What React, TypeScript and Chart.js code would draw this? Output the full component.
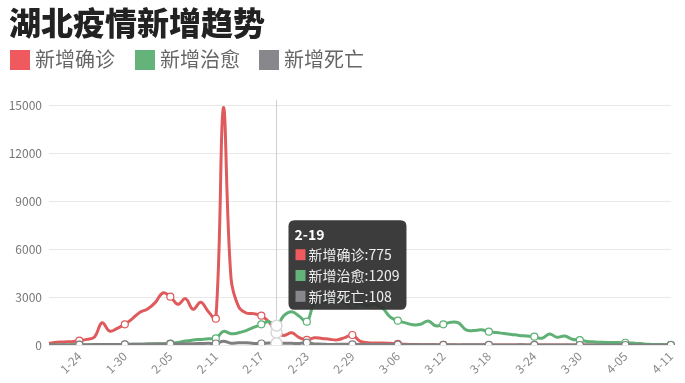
import React, { useEffect, useRef } from 'react';
import { Chart, registerables, Tooltip } from 'chart.js';

Chart.register(...registerables);

const TITLE = '湖北疫情新增趋势';
const seriesNames = ['新增确诊', '新增治愈', '新增死亡'];
const lineColors = ['#de5a5c', '#5eb075', '#7f7f7f'];
const legendColors = ['#ef5a5e', '#63b37a', '#88888c'];

const dates = [
  '1-20', '1-21', '1-22', '1-23', '1-24', '1-25', '1-26', '1-27', '1-28', '1-29', '1-30', '1-31',
  '2-01', '2-02', '2-03', '2-04', '2-05', '2-06', '2-07', '2-08', '2-09', '2-10', '2-11', '2-12',
  '2-13', '2-14', '2-15', '2-16', '2-17', '2-18', '2-19', '2-20', '2-21', '2-22', '2-23', '2-24',
  '2-25', '2-26', '2-27', '2-28', '2-29',
  '3-01', '3-02', '3-03', '3-04', '3-05', '3-06', '3-07', '3-08', '3-09', '3-10', '3-11', '3-12',
  '3-13', '3-14', '3-15', '3-16', '3-17', '3-18', '3-19', '3-20', '3-21', '3-22', '3-23', '3-24',
  '3-25', '3-26', '3-27', '3-28', '3-29', '3-30', '3-31',
  '4-01', '4-02', '4-03', '4-04', '4-05', '4-06', '4-07', '4-08', '4-09', '4-10', '4-11',
];

const confirmed = [
  100, 170, 190, 210, 270, 350, 500, 1390, 870, 1040, 1290, 1650,
  2050, 2250, 2650, 3250, 3020, 2540, 2900, 2230, 2670, 2100, 1645, 14840,
  4200, 2400, 2000, 1960, 1830, 1450, 775, 600, 760, 460, 320, 450,
  410, 360, 320, 460, 625,
  240, 140, 120, 130, 110, 74, 41, 36, 17, 13, 8, 5,
  4, 4, 0, 1, 0, 0, 0, 0, 0, 0, 0, 0,
  0, 0, 0, 0, 0, 0, 0,
  0, 0, 0, 0, 0, 0, 0, 0, 0, 0, 0,
];

const cured = [
  0, 3, 2, 8, 10, 5, 10, 20, 30, 20, 30, 40,
  50, 60, 75, 80, 90, 150, 250, 310, 350, 390, 420, 850,
  700, 760, 900, 1100, 1290, 1460, 1209, 1850, 2080, 1800, 1460, 2600,
  2650, 2750, 2900, 2650, 2500,
  2600, 2450, 2550, 2300, 1750, 1520, 1380, 1260, 1300, 1500, 1200, 1290,
  1420, 1380, 940, 900, 950, 830, 780, 720, 660, 600, 560, 520,
  420, 680, 480, 560, 360, 310, 220,
  190, 170, 160, 150, 140, 120, 90, 40, 30, 20, 15,
];

const deaths = [
  0, 3, 8, 7, 24, 13, 24, 24, 25, 37, 38, 42,
  45, 56, 64, 65, 70, 69, 81, 81, 91, 103, 94, 242,
  116, 139, 139, 100, 93, 132, 108, 115, 106, 96, 149, 68,
  52, 29, 44, 47, 45,
  34, 31, 37, 31, 29, 24, 22, 21, 16, 22, 10, 7,
  10, 6, 10, 11, 8, 8, 3, 7, 6, 9, 7, 4,
  6, 5, 3, 5, 1, 1, 7,
  6, 4, 3, 3, 0, 2, 0, 0, 0, 0, 0,
];

const Y_MAX = 15000;
const Y_STEP = 3000;
const LABEL_START = 4;
const LABEL_STEP = 6;
const HOVER_INDEX = dates.indexOf('2-19');

const FONT = '"Noto Sans CJK SC", "Noto Sans", sans-serif';

const isLabelled = (i: number) => i >= LABEL_START && (i - LABEL_START) % LABEL_STEP === 0;

(Tooltip as any).positioners.besidePointer = function (items: any[]) {
  if (!items.length) return false;
  const el = items[0].element;
  const ca = this.chart.chartArea;
  return { x: el.x + 12, y: ca.top + 160 };
};

const pointerLine = {
  id: 'pointerLine',
  beforeDatasetsDraw(chart: any) {
    const { ctx, chartArea, scales } = chart;
    const x = scales.x.getPixelForValue(HOVER_INDEX);
    ctx.save();
    ctx.strokeStyle = '#cfcfcf';
    ctx.lineWidth = 1;
    ctx.beginPath();
    ctx.moveTo(Math.round(x) + 0.5, chartArea.top - 5);
    ctx.lineTo(Math.round(x) + 0.5, chartArea.bottom);
    ctx.stroke();
    ctx.restore();
  },
};

export default function App() {
  const canvasRef = useRef<HTMLCanvasElement | null>(null);

  useEffect(() => {
    if (!canvasRef.current) return;
    Chart.defaults.font.family = FONT;
    const seriesData = [confirmed, cured, deaths];
    const chart = new Chart(canvasRef.current, {
      type: 'line',
      data: {
        labels: dates,
        datasets: seriesData.map((d, k) => ({
          label: seriesNames[k],
          data: d,
          borderColor: lineColors[k],
          backgroundColor: lineColors[k],
          borderWidth: 3,
          tension: 0.4,
          order: 3 - k,
          pointRadius: (c: any) => (isLabelled(c.dataIndex) ? 3.5 : 0),
          pointBackgroundColor: '#ffffff',
          pointBorderColor: lineColors[k],
          pointBorderWidth: 1.2,
          pointHoverRadius: 5.5,
          pointHoverBackgroundColor: '#ffffff',
          pointHoverBorderColor: '#d8d8d8',
          pointHoverBorderWidth: 1.5,
        })),
      },
      plugins: [pointerLine],
      options: {
        responsive: false,
        animation: false,
        events: [],
        layout: { padding: { left: 0, right: 10, top: 105, bottom: 0 } },
        plugins: {
          legend: { display: false },
          title: { display: false },
          tooltip: {
            enabled: true,
            position: 'besidePointer' as any,
            xAlign: 'left',
            yAlign: 'center',
            caretSize: 0,
            caretPadding: 0,
            backgroundColor: 'rgba(50,50,50,0.95)',
            cornerRadius: 6,
            padding: { top: 7, bottom: 5, left: 6, right: 7 },
            titleFont: { family: FONT, size: 14, weight: 'bold', lineHeight: 1 },
            titleColor: '#ffffff',
            titleMarginBottom: 5,
            bodyFont: { family: FONT, size: 14, lineHeight: 1.2 },
            bodyColor: '#eeeeee',
            bodySpacing: 4,
            boxWidth: 12,
            boxHeight: 13,
            boxPadding: 0,
            displayColors: true,
            callbacks: {
              title: (items: any[]) => items[0].label,
              label: (item: any) => `${item.dataset.label}:${item.raw}`,
              labelColor: (item: any) => ({
                borderColor: 'rgba(0,0,0,0)',
                backgroundColor: legendColors[item.datasetIndex],
                borderWidth: 1,
                borderRadius: 0,
              }),
            },
            multiKeyBackground: 'rgba(0,0,0,0)',
          },
        },
        scales: {
          x: {
            type: 'category',
            offset: false,
            grid: { display: false, drawTicks: false },
            border: { display: false },
            ticks: {
              autoSkip: false,
              maxRotation: 45,
              minRotation: 45,
              padding: 4,
              color: '#8a8a8a',
              font: { size: 12 },
              callback: (_v: any, i: number) => (isLabelled(i) ? dates[i] : ''),
            },
            afterFit: (s: any) => { s.height = 38; },
          },
          y: {
            min: 0,
            max: Y_MAX,
            grid: { color: '#e8e8e8', drawTicks: false },
            border: { display: false },
            ticks: {
              stepSize: Y_STEP,
              padding: 7,
              color: '#777777',
              font: { size: 12 },
              callback: (v: any) => String(v),
            },
            afterFit: (s: any) => { s.width = 49; },
          },
        },
      },
    });

    const active = [0, 1, 2].map((d) => ({ datasetIndex: d, index: HOVER_INDEX }));
    chart.setActiveElements(active);
    chart.tooltip!.setActiveElements(active, { x: 0, y: 0 });
    chart.update();

    return () => chart.destroy();
  }, []);

  const legendX = [10, 135, 259];

  return (
    <div style={{ position: 'absolute', left: 0, top: 0, width: 685, height: 383, background: '#ffffff', fontFamily: FONT, overflow: 'hidden' }}>
      <canvas ref={canvasRef} width={685} height={383} style={{ position: 'absolute', left: 0, top: 0 }} />
      <div style={{ position: 'absolute', left: 9, top: 5, fontSize: 32, fontWeight: 900, lineHeight: '32px', color: '#222222', whiteSpace: 'nowrap' }}>
        {TITLE}
      </div>
      {seriesNames.map((name, k) => (
        <div key={name} style={{ position: 'absolute', left: legendX[k], top: 50, height: 20, whiteSpace: 'nowrap' }}>
          <span style={{ position: 'absolute', left: 0, top: 0, width: 20, height: 20, background: legendColors[k] }} />
          <span style={{ position: 'absolute', left: 25, top: -1, fontSize: 20, lineHeight: '20px', color: '#666666' }}>{name}</span>
        </div>
      ))}
    </div>
  );
}
